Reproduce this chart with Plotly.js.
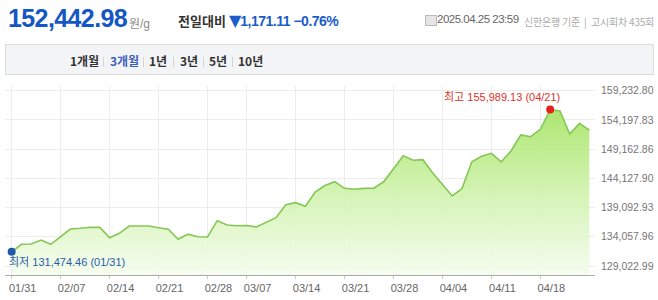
<!DOCTYPE html>
<html><head><meta charset="utf-8">
<script src="https://cdn.plot.ly/plotly-3.0.1.min.js"></script>
<style>
html,body{margin:0;padding:0;background:#fff;width:658px;height:300px;overflow:hidden;font-family:"Liberation Sans","Noto Sans CJK KR",sans-serif;}
#wrap{position:relative;width:658px;height:300px;}
#chart{position:absolute;left:0;top:0;width:658px;height:300px;}
.abs{position:absolute;white-space:nowrap;}
#price{left:8px;top:4px;font-size:25px;font-weight:bold;color:#1457c4;letter-spacing:-0.6px;}
#unit{left:129px;top:14px;font-size:12px;color:#8a8a8a;}
#diffl{left:178px;top:11px;font-size:13px;font-weight:bold;color:#333;font-family:"Noto Sans CJK KR",sans-serif;}
#diffv{left:229px;top:11px;font-size:14px;color:#1a5cc8;font-weight:bold;letter-spacing:-0.5px;}
#diffv .tri{font-size:16px;font-family:"DejaVu Sans",sans-serif;letter-spacing:-1px;}
.info{top:14px;font-size:10px;color:#aaa;font-family:"Noto Sans CJK KR",sans-serif;letter-spacing:-0.2px;}
#idate{left:437px;top:13px;color:#666;font-family:"Liberation Sans",sans-serif;font-size:11.5px;letter-spacing:-0.5px;}
#icon{left:425px;top:15px;width:10px;height:9px;border:1px solid #bbb;background:#e5e5e5;}
#bar{left:5px;top:44px;width:647px;height:29px;background:#f3f4f6;border:1px solid #dcdcdc;}
.btn{position:absolute;top:52px;font-size:12px;font-weight:bold;color:#333;font-family:"Noto Sans CJK KR",sans-serif;}
.sep{position:absolute;top:57px;width:1px;height:10px;background:#d5d5d5;}
</style></head>
<body><div id="wrap">
<div id="chart"></div>
<div class="abs" id="price">152,442.98</div>
<div class="abs" id="unit">원/g</div>
<div class="abs" id="diffl">전일대비</div>
<div class="abs" id="diffv"><span class="tri">▼</span>1,171.11 −0.76%</div>
<div class="abs" id="icon"></div>
<div class="abs" id="idate">2025.04.25 23:59</div>
<div class="abs info" style="left:524px">신한은행 기준</div>
<div class="abs info" style="left:584px">|</div>
<div class="abs info" style="left:591px">고시회차 435회</div>
<div class="abs" id="bar"></div>
<div class="btn" style="left:70px">1개월</div>
<div class="sep" style="left:103px"></div>
<div class="btn" style="left:110px;color:#3d5fc0">3개월</div>
<div class="sep" style="left:143px"></div>
<div class="btn" style="left:149px">1년</div>
<div class="sep" style="left:173px"></div>
<div class="btn" style="left:180px">3년</div>
<div class="sep" style="left:203px"></div>
<div class="btn" style="left:209px">5년</div>
<div class="sep" style="left:232px"></div>
<div class="btn" style="left:238px">10년</div>
</div>
<script>
const dates = ["01/31",
 "02/03","02/04","02/05","02/06","02/07",
 "02/10","02/11","02/12","02/13","02/14",
 "02/17","02/18","02/19","02/20","02/21",
 "02/24","02/25","02/26","02/27","02/28",
 "03/04","03/05","03/06","03/07",
 "03/10","03/11","03/12","03/13","03/14",
 "03/17","03/18","03/19","03/20","03/21",
 "03/24","03/25","03/26","03/27","03/28",
 "03/31","04/01","04/02","04/03","04/04",
 "04/07","04/08","04/09","04/10","04/11",
 "04/14","04/15","04/16","04/17","04/18",
 "04/21","04/22","04/23","04/24","04/25"];
const prices = [131474.46,
 132764,132816,133505,132760,134109,
 135402,135523,135695,135680,133902,
 134660,135919,135930,135910,135626,
 135367,133626,134505,134074,134023,
 136833,136091,135971,136005,
 135747,136522,137350,139591,139936,
 139315,141781,142901,143556,142418,
 142246,142400,142450,143540,145746,
 148039,147246,147349,145056,142987,
 141091,142380,147004,147935,148452,
 146990,148849,151607,151314,152590,
 155989.13,155745,151780,153614.09,152442.98];
const xTickDates = ["01/31","02/07","02/14","02/21","02/28","03/07","03/14","03/21","03/28","04/04","04/11","04/18"];
const yTickValues = [129022.99,134057.96,139092.93,144127.90,149162.86,154197.83,159232.80];
const yTickLabels = ["129,022.99","134,057.96","139,092.93","144,127.90","149,162.86","154,197.83","159,232.80"];

const yRange = [127471, 160055];
const maxV = Math.max(...prices), minV = Math.min(...prices);
const maxI = prices.indexOf(maxV), minI = prices.indexOf(minV);
const fmt = v => v.toLocaleString('en-US',{minimumFractionDigits:2,maximumFractionDigits:2});

const traces = [
 {x: dates, y: prices, type:'scatter', mode:'lines', fill:'tozeroy',
  line:{color:'#84c754', width:1.6},
  fillcolor:'rgba(190,235,150,0.8)',
  fillgradient:{type:'vertical', start:yRange[0], stop:maxV,
    colorscale:[[0,'rgba(244,252,236,0.85)'],[0.5,'rgba(206,242,170,0.88)'],[1,'rgba(165,228,100,0.92)']]},
  hoverinfo:'skip'},
 {x:[dates[maxI]], y:[maxV], type:'scatter', mode:'markers', marker:{color:'#e8201c', size:8}, hoverinfo:'skip'},
 {x:[dates[minI]], y:[minV], type:'scatter', mode:'markers', marker:{color:'#1f5aa8', size:8}, hoverinfo:'skip'}
];

const layout = {
 width:658, height:300, showlegend:false,
 paper_bgcolor:'rgba(0,0,0,0)', plot_bgcolor:'#fff',
 margin:{l:5, r:63, t:86, b:25},
 font:{family:'"Liberation Sans","Noto Sans CJK KR",sans-serif'},
 xaxis:{type:'category', categoryorder:'array', categoryarray:dates,
   range:[-0.68, 59.58], tickvals:xTickDates, ticktext:xTickDates,
   showgrid:true, gridcolor:'#ececec', gridwidth:1,
   showline:true, linecolor:'#aaaaaa', linewidth:1,
   ticks:'outside', ticklen:3, tickcolor:'#cccccc', ticklabelshift:11,
   tickfont:{size:11, color:'#666'}, fixedrange:true, zeroline:false},
 yaxis:{range:yRange, side:'right', tickvals:yTickValues, ticktext:yTickLabels,
   showgrid:true, gridcolor:'#ececec', gridwidth:1, zeroline:false,
   ticks:'', ticklabelstandoff:5,
   tickfont:{size:10.5, color:'#777'}, fixedrange:true, showline:false},
 annotations:[
  {x:dates[maxI], y:maxV, xref:'x', yref:'y', showarrow:false,
   text:'최고 '+fmt(maxV)+' ('+dates[maxI]+')', xanchor:'center', yanchor:'middle',
   xshift:-48, yshift:13, font:{size:11, color:'#e0322b'}},
  {x:dates[minI], y:minV, xref:'x', yref:'y', showarrow:false,
   text:'최저 '+fmt(minV)+' ('+dates[minI]+')', xanchor:'left', yanchor:'middle',
   xshift:-5, yshift:-10, font:{size:11, color:'#2a5cab'}}
 ]
};
Plotly.newPlot('chart', traces, layout, {displayModeBar:false, staticPlot:true});
</script>
</body></html>
